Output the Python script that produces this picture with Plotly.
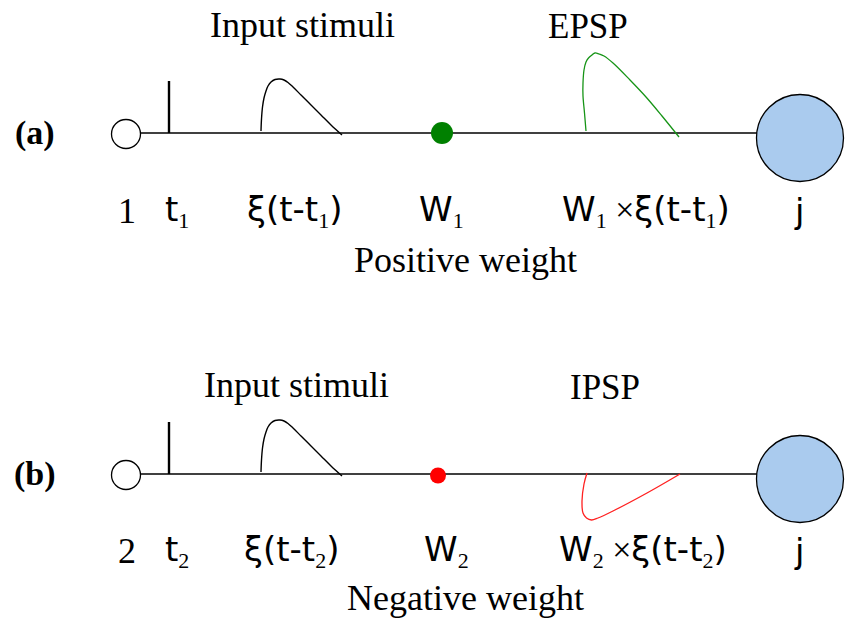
import plotly.graph_objects as go

# ---- diagram geometry (pixel-like units, y grows downward) ----
W, H = 848, 619
axon_y = [133, 474]
axon_x0, axon_x1 = 141, 757
input_x, input_r = 126, 14.5
soma_x, soma_r, soma_dy = 800, 43.5, 5
spike_x, spike_len = 169, 52
weight_x = [442, 438]
weight_dy = [0, 1.5]
weight_r = [11, 8]
weight_colors = ["#008000", "#ff0000"]
psp_colors = ["#169416", "#ff2020"]
stim_onset_x = 261
psp_onset_x = [586, 587]

# ---- waveform values ----
# input stimulus xi(t - t_i): offset from onset and height above the axon
stim_dx = [0, 0.5, 1.5, 3, 5, 7, 10, 14, 19, 23, 27, 32, 40, 50, 60, 70, 81]
stim_h = [2, 14, 26, 35, 42, 47, 51, 53.5, 54, 53, 50.5, 46, 38, 28, 18, 8, -2]
# excitatory post-synaptic potential W1 * xi(t - t1)
epsp_dx = [0, -1.5, -3, -3, -2, 0, 2.5, 6, 9, 13, 18, 27, 44, 60, 76, 93]
epsp_h = [2, 20, 37, 50, 63, 71, 75, 78, 80, 79, 77, 70, 53, 36, 17, -4]
# inhibitory post-synaptic potential W2 * xi(t - t2)
ipsp_dx = [0, -3, -5, -4, -0.5, 4.5, 11, 26, 60, 93]
ipsp_h = [1, -10, -27, -39, -44, -46, -44, -37, -19, 0]

# ---- text ----
panel_labels = ["(a)", "(b)"]
input_ids = ["1", "2"]
psp_names = ["EPSP", "IPSP"]
weight_names = ["Positive weight", "Negative weight"]
SERIF = "Liberation Serif"
SANS = "DejaVu Sans"


def sub(d):
    return ("<sub><span style=\"font-family:'Liberation Serif';font-size:22px\">"
            + d + "</span></sub>")


TIMES = "<span style=\"font-family:'Liberation Serif';font-size:34px\"> ×</span>"

fig = go.Figure()
shapes = []
annotations = []

for i, y in enumerate(axon_y):
    # axon line
    fig.add_trace(go.Scatter(x=[axon_x0, axon_x1], y=[y, y], mode="lines",
                             line=dict(color="black", width=1.4),
                             hoverinfo="skip", showlegend=False))
    # spike at t_i
    fig.add_trace(go.Scatter(x=[spike_x, spike_x], y=[y, y - spike_len], mode="lines",
                             line=dict(color="black", width=2.4),
                             hoverinfo="skip", showlegend=False))
    # input stimulus kernel
    fig.add_trace(go.Scatter(x=[stim_onset_x + d for d in stim_dx],
                             y=[y - h for h in stim_h], mode="lines",
                             line=dict(color="black", width=1.4, shape="spline"),
                             hoverinfo="skip", showlegend=False))
    # post-synaptic potential
    dx, hh = (epsp_dx, epsp_h) if i == 0 else (ipsp_dx, ipsp_h)
    fig.add_trace(go.Scatter(x=[psp_onset_x[i] + d for d in dx],
                             y=[y - h for h in hh], mode="lines",
                             line=dict(color=psp_colors[i], width=1.3, shape="spline"),
                             hoverinfo="skip", showlegend=False))

    # input neuron (open circle)
    shapes.append(dict(type="circle", xref="x", yref="y",
                       x0=input_x - input_r, x1=input_x + input_r,
                       y0=y + 1 - input_r, y1=y + 1 + input_r,
                       line=dict(color="black", width=1.3), fillcolor="white"))
    # synaptic weight
    wy = y + weight_dy[i]
    shapes.append(dict(type="circle", xref="x", yref="y",
                       x0=weight_x[i] - weight_r[i], x1=weight_x[i] + weight_r[i],
                       y0=wy - weight_r[i], y1=wy + weight_r[i],
                       line=dict(width=0), fillcolor=weight_colors[i]))
    # post-synaptic neuron j
    sy = y + soma_dy
    shapes.append(dict(type="circle", xref="x", yref="y",
                       x0=soma_x - soma_r, x1=soma_x + soma_r,
                       y0=sy - soma_r, y1=sy + soma_r,
                       line=dict(color="black", width=1.3), fillcolor="#aacbee"))

    k = str(i + 1)
    ty = y + 78 if i == 0 else y + 77
    serif_items = [
        (35, y, "<b>" + panel_labels[i] + "</b>", 34),
        (302 if i == 0 else 296, y - 108 if i == 0 else y - 89, "Input stimuli", 36),
        (588 if i == 0 else 605, y - 107 if i == 0 else y - 87, psp_names[i], 35),
        (465, y + 127 if i == 0 else y + 124, weight_names[i], 36),
        (127, ty, input_ids[i], 36),
    ]
    for ax_, ay_, txt, fs in serif_items:
        annotations.append(dict(x=ax_, y=ay_, xref="x", yref="y", text=txt,
                                showarrow=False, xanchor="center", yanchor="middle",
                                font=dict(family=SERIF, size=fs, color="black")))
    sans_items = [
        (177, "t" + sub(k)),
        (294 if i == 0 else 291, "ξ(t-t" + sub(k) + ")"),
        (441 if i == 0 else 446, "W" + sub(k)),
        (646 if i == 0 else 643, "W" + sub(k) + TIMES + "ξ(t-t" + sub(k) + ")"),
        (799, "j"),
    ]
    for ax_, txt in sans_items:
        annotations.append(dict(x=ax_, y=ty, xref="x", yref="y", text=txt,
                                showarrow=False, xanchor="center", yanchor="middle",
                                font=dict(family=SANS, size=34, color="black")))

fig.update_layout(
    width=W, height=H, autosize=False,
    margin=dict(l=0, r=0, t=0, b=0),
    paper_bgcolor="white", plot_bgcolor="white",
    xaxis=dict(range=[0, W], visible=False, fixedrange=True),
    yaxis=dict(range=[H, 0], visible=False, fixedrange=True),
    shapes=shapes, annotations=annotations,
    showlegend=False,
)

fig.write_html("out.html")
